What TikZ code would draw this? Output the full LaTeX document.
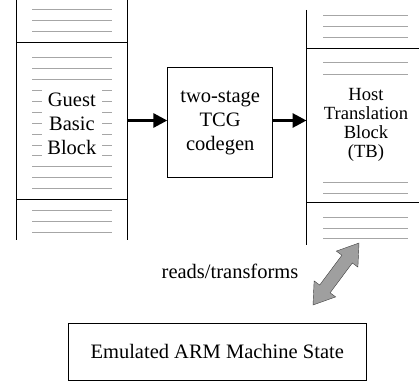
\documentclass[tikz,border=0pt]{standalone}
\usepackage{fontspec}
\setmainfont{Liberation Serif}
\usetikzlibrary{arrows.meta,calc}
\begin{document}
\begin{tikzpicture}[x=1pt,y=-1pt,
  wall/.style={draw=black,line width=0.9pt},
  codeline/.style={draw=gray!70,line width=0.75pt},
  box/.style={draw=black,line width=0.8pt,inner sep=0pt},
  holder/.style={inner sep=0pt},
  flow/.style={line width=3pt,-{Triangle[length=14pt,width=14pt]}},
  lbl/.style={font=\fontsize{20.5}{24}\selectfont,align=center},
  hostlbl/.style={font=\fontsize{18.6}{19.2}\selectfont,align=center}
]
\useasboundingbox (0,0) rectangle (419,382);

% ---------- left stack (guest code) ----------
\node[holder,minimum width=110.3pt,minimum height=157pt] (guest) at (71.85,120.5) {};
\draw[wall] (16.7,0) -- (16.7,240);
\draw[wall] (127,0) -- (127,240);
\draw[wall] (16.7,42) -- (127,42);
\draw[wall] (16.7,199) -- (127,199);
\foreach \y in {9.5,20,31, 57,68,79, 166,177,188, 210,221,232}
  \draw[codeline] (32,\y) -- (112,\y);
\foreach \y in {90,101,112,123,134,145,155}{
  \draw[codeline] (32,\y) -- (42,\y);
  \draw[codeline] (102,\y) -- (112,\y);
}
\node[lbl] (guesttxt) at (71.85,124) {Guest\\Basic\\Block};

% ---------- middle codegen box ----------
\node[box,minimum width=105pt,minimum height=110pt] (tcg) at (220.2,122.7) {};
\node[lbl] (tcgtxt) at (tcg.center) {two-stage\\TCG\\codegen};

% ---------- right stack (host code) ----------
\node[holder,minimum width=112.3pt,minimum height=154pt] (host) at (362.85,125) {};
\draw[wall] (306.7,10) -- (306.7,245);
\draw[wall] (306.7,48) -- (419,48);
\draw[wall] (306.7,202) -- (419,202);
\foreach \y in {15,26,37, 62,74, 182,193, 217,228,238}
  \draw[codeline] (323,\y) -- (408,\y);
\node[hostlbl] (hosttxt) at (366,125) {Host\\Translation\\Block\\(TB)};

% ---------- flow arrows ----------
\draw[flow] (guest.east) -- (guest.east -| tcg.west);
\draw[flow] (tcg.east |- guest.east) -- (host.west |- guest.east);

% ---------- machine state ----------
\node[box,minimum width=297.7pt,minimum height=56.7pt] (state) at (217.2,351.7) {};
\node[lbl] (statetxt) at (state.center) {Emulated ARM Machine State};

% ---------- reads/transforms double arrow ----------
\node[lbl] (rt) at (230,271) {reads/transforms};
% axis A=(313,305) -> B=(359,243); n=(0.803,0.596)
% head length 20, shaft half-width 6.5, head half-width 13.5
\filldraw[fill=gray!75,draw=gray!50!black,line width=0.4pt]
  (313,305) -- (335.7,296.9) -- (330.1,292.8) -- (352.3,263.0) -- (357.9,267.1)
  -- (359,243) -- (336.3,251.1) -- (341.9,255.2) -- (319.7,285.0) -- (314.1,280.9) -- cycle;
\end{tikzpicture}
\end{document}
